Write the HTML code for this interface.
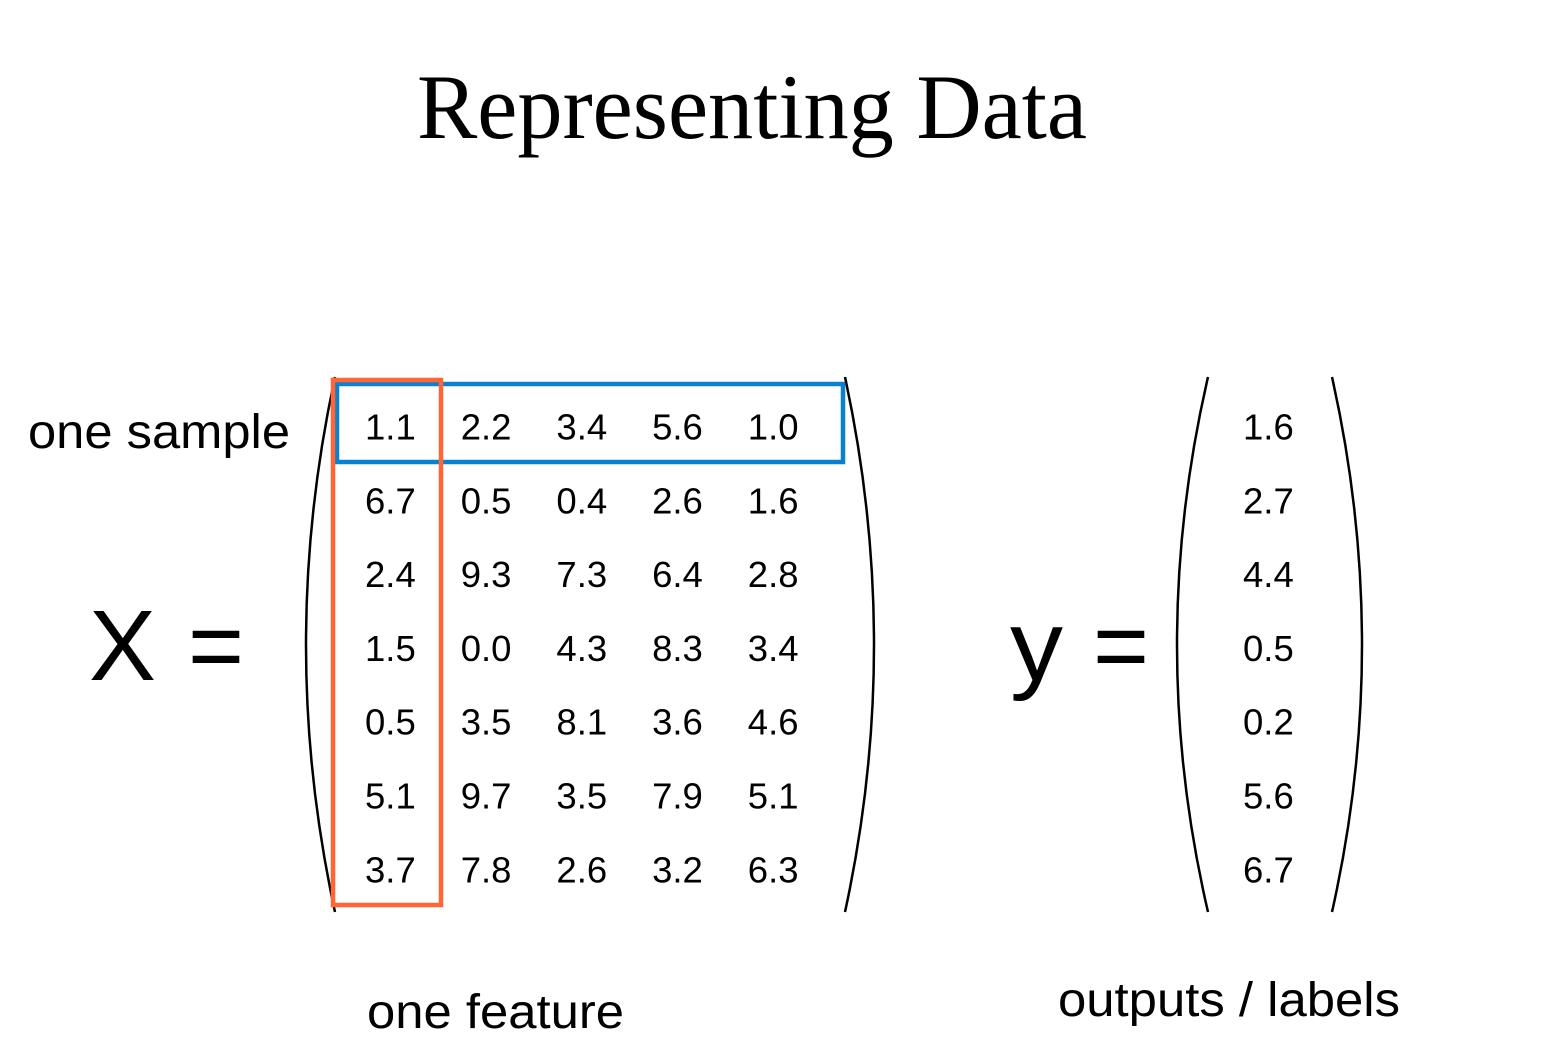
<!DOCTYPE html>
<html>
<head>
<meta charset="utf-8">
<style>
  html,body{margin:0;padding:0;background:#fff;}
  svg{display:block;}
  text{font-family:"Liberation Sans",sans-serif;fill:#000;}
</style>
</head>
<body>
<svg id="chart" width="1558" height="1050" viewBox="0 0 1558 1050">
  <text x="752" y="138" text-anchor="middle" font-size="92" textLength="670" lengthAdjust="spacingAndGlyphs" style="font-family:'Liberation Serif',serif">Representing Data</text>

  <text x="28" y="448" font-size="48" textLength="262" lengthAdjust="spacingAndGlyphs">one sample</text>
  <text x="89" y="680" font-size="100" textLength="67" lengthAdjust="spacingAndGlyphs">X</text>
  <text x="188" y="680" font-size="100" textLength="56" lengthAdjust="spacingAndGlyphs">=</text>
  <text x="1010" y="680" font-size="100" textLength="53" lengthAdjust="spacingAndGlyphs">y</text>
  <text x="1093" y="680" font-size="100" textLength="56" lengthAdjust="spacingAndGlyphs">=</text>
  <text x="367" y="1028" font-size="48" textLength="257" lengthAdjust="spacingAndGlyphs">one feature</text>
  <text x="1058" y="1016" font-size="48" textLength="342" lengthAdjust="spacingAndGlyphs">outputs / labels</text>

  <g fill="none" stroke="#000" stroke-width="2.5">
    <path d="M335,377 Q277,645 335,912"/>
    <path d="M845,377 Q903,645 845,912"/>
    <path d="M1208,377 Q1146,645 1208,912"/>
    <path d="M1332,377 Q1392,645 1332,912"/>
  </g>

  <g id="matrix"></g>
  <g id="vector"></g>

  <rect x="337" y="384" width="506" height="78" fill="none" stroke="#0a80d0" stroke-width="4.5"/>
  <rect x="333" y="380" width="108" height="525" fill="none" stroke="#ff6633" stroke-width="4.5"/>
</svg>
<script>
const matrixValues = [
  ["1.1","2.2","3.4","5.6","1.0"],
  ["6.7","0.5","0.4","2.6","1.6"],
  ["2.4","9.3","7.3","6.4","2.8"],
  ["1.5","0.0","4.3","8.3","3.4"],
  ["0.5","3.5","8.1","3.6","4.6"],
  ["5.1","9.7","3.5","7.9","5.1"],
  ["3.7","7.8","2.6","3.2","6.3"]
];
const yValues = ["1.6","2.7","4.4","0.5","0.2","5.6","6.7"];

const NS = "http://www.w3.org/2000/svg";
function colX(j){ return 365 + j*95.7; }
function rowY(i){ return 439.5 + i*73.8; }
const mg = document.getElementById("matrix");
matrixValues.forEach((row,i)=>{
  row.forEach((v,j)=>{
    const t = document.createElementNS(NS,"text");
    t.setAttribute("x", colX(j));
    t.setAttribute("y", rowY(i));
    t.setAttribute("font-size","36.5");
    t.textContent = v;
    
    
    mg.appendChild(t);
  });
});
const vg = document.getElementById("vector");
yValues.forEach((v,i)=>{
  const t = document.createElementNS(NS,"text");
  t.setAttribute("x", 1243);
  t.setAttribute("y", rowY(i));
  t.setAttribute("font-size","36.5");
  t.textContent = v;
  
  
  vg.appendChild(t);
});
</script>
</body>
</html>
